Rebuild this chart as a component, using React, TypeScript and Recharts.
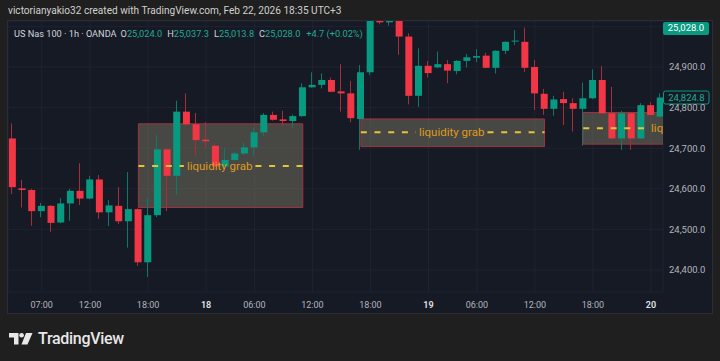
import React from "react";
import {
  ComposedChart,
  Bar,
  XAxis,
  YAxis,
  CartesianGrid,
  ReferenceArea,
  ReferenceLine,
} from "recharts";

// hourly candles, US Nas 100 (OANDA)
const opens = [
  24724, 24601, 24597, 24545, 24558, 24517, 24564, 24595, 24576, 24623,
  24542, 24558, 24520, 24550, 24419, 24535, 24697, 24632, 24790, 24759,
  24721, 24706, 24655, 24671, 24687, 24702, 24739, 24782, 24771, 24767,
  24779, 24850, 24856, 24868, 24840, 24835, 24772, 24887, 25035, 25010,
  25025, 24975, 24829, 24903, 24899, 24907, 24890, 24915, 24923, 24928,
  24898, 24940, 24963, 24962, 24900, 24834, 24797, 24821, 24811, 24797,
  24823, 24868, 24786, 24724, 24786, 24724, 24806, 24778,
];
const highs = [
  24761, 24622, 24600, 24565, 24560, 24577, 24600, 24663, 24632, 24634,
  24572, 24604, 24641, 24552, 24577, 24732, 24701, 24817, 24835, 24787,
  24764, 24712, 24700, 24692, 24714, 24749, 24786, 24790, 24792, 24783,
  24860, 24887, 24884, 24874, 24907, 24866, 24905, 25045, 25042, 25030,
  25035, 24983, 24946, 24915, 24938, 24917, 24917, 24932, 24944, 24935,
  24941, 24963, 24991, 24997, 24917, 24846, 24829, 24839, 24823, 24862,
  24894, 24902, 24851, 24792, 24788, 24811, 24813, 24835,
];
const lows = [
  24587, 24554, 24509, 24530, 24494, 24515, 24521, 24560, 24574, 24526,
  24508, 24513, 24455, 24410, 24383, 24530, 24545, 24585, 24755, 24681,
  24700, 24652, 24653, 24669, 24683, 24681, 24730, 24768, 24755, 24749,
  24777, 24849, 24847, 24838, 24790, 24764, 24696, 24880, 25005, 25002,
  24930, 24808, 24802, 24874, 24897, 24860, 24882, 24899, 24912, 24897,
  24884, 24932, 24954, 24888, 24794, 24782, 24780, 24757, 24741, 24706,
  24821, 24784, 24722, 24696, 24696, 24722, 24780, 24776,
];
const closes = [
  24604, 24597, 24545, 24558, 24516, 24564, 24595, 24576, 24623, 24542,
  24559, 24520, 24550, 24419, 24535, 24697, 24632, 24790, 24759, 24720,
  24717, 24655, 24671, 24687, 24702, 24739, 24782, 24770, 24767, 24779,
  24850, 24856, 24868, 24839, 24835, 24774, 24887, 25035, 25010, 25025,
  24975, 24829, 24903, 24885, 24907, 24891, 24915, 24924, 24927, 24898,
  24940, 24962, 24965, 24898, 24835, 24797, 24820, 24811, 24797, 24823,
  24868, 24786, 24724, 24786, 24724, 24806, 24782, 24824.8,
];

const timeTicks = [3, 8, 14, 20, 25, 31, 37, 43, 48, 54, 60, 66];
const timeLabels = ["07:00", "12:00", "18:00", "18", "06:00", "12:00", "18:00", "19", "06:00", "12:00", "18:00", "20"];
const priceTicks = [24400, 24500, 24600, 24700, 24800, 24900, 25000];

// "liquidity grab" rectangles (bar index / price)
const boxStart = [13, 36, 59];
const boxEnd = [30, 55, 80];
const boxTop = [24760, 24772, 24788];
const boxBottom = [24554, 24704, 24710];
const boxMid = [24656, 24739, 24749];
const boxTextAt = [21.4, 45.4, 69.4];

const lastPrice = 25028.0;
const markPrice = 24824.8;

const UP = "#089981";
const DOWN = "#f23645";

const candles = opens.map((o, i) => ({ i, o, h: highs[i], l: lows[i], c: closes[i] }));

const fmt = (v: number) =>
  v.toLocaleString("en-US", { minimumFractionDigits: 1, maximumFractionDigits: 1 });

function Candle(props: any) {
  const { x, y, width, height, payload } = props;
  if (x == null || !payload) return null;
  const { o, h, l, c } = payload;
  const up = c >= o;
  const top = Math.min(y, y + height);
  const hh = Math.abs(height);
  const k = h === l ? 0 : hh / (h - l);
  const bTop = top + (h - Math.max(o, c)) * k;
  const bBot = top + (h - Math.min(o, c)) * k;
  const cx = Math.round(x + width / 2) - 0.5;
  return (
    <g>
      <line x1={cx} x2={cx} y1={top} y2={top + hh} stroke={up ? "#0b7a67" : "#a82c39"} strokeWidth={1} />
      <rect x={x} y={bTop} width={width} height={Math.max(1, bBot - bTop)} fill={up ? UP : DOWN} />
    </g>
  );
}

function TimeTick(props: any) {
  const { x, y, payload } = props;
  const idx = timeTicks.indexOf(payload.value);
  const label = timeLabels[idx] ?? "";
  const day = label.length <= 2;
  return (
    <text
      x={x}
      y={y + 4.5}
      textAnchor="middle"
      dominantBaseline="central"
      fontSize={9}
      fill={day ? "#e0e3eb" : "#b2b5be"}
      fontWeight={day ? 600 : 400}
    >
      {label}
    </text>
  );
}

function PriceTick(props: any) {
  const { x, y, payload } = props;
  return (
    <text x={x} y={y} textAnchor="start" dominantBaseline="central" fontSize={9.5} fill="#b2b5be">
      {fmt(payload.value)}
    </text>
  );
}

function MarkBadge(props: any) {
  const { viewBox } = props;
  if (!viewBox) return null;
  const bx = viewBox.x + viewBox.width;
  const by = viewBox.y;
  return (
    <g>
      <rect x={bx + 0.5} y={by - 6.5} width={45.5} height={13} rx={2} fill="#161a25" stroke="#089981" strokeWidth={1} />
      <text x={bx + 23.5} y={by} textAnchor="middle" dominantBaseline="central" fontSize={9.5} fill="#22ab94">
        {fmt(markPrice)}
      </text>
    </g>
  );
}

function GrabText(props: any) {
  const { viewBox } = props;
  if (!viewBox) return null;
  return (
    <text
      x={viewBox.x + viewBox.width / 2}
      y={viewBox.y}
      textAnchor="middle"
      dominantBaseline="central"
      fontSize={11.5}
      fill="#df9a1c"
      clipPath="url(#plotClip)"
    >
      liquidity grab
    </text>
  );
}

export default function App() {
  return (
    <div
      style={{
        position: "absolute",
        left: 0,
        top: 0,
        width: 720,
        height: 361,
        background: "#1f1f1f",
        fontFamily: "Roboto, 'Noto Sans', sans-serif",
        overflow: "hidden",
      }}
    >
      {/* snapshot header */}
      <div style={{ position: "absolute", left: 8, top: 5, fontSize: 10.1, color: "#d0d0d0", whiteSpace: "nowrap" }}>
        victorianyakio32 created with TradingView.com, Feb 22, 2026 18:35 UTC+3
      </div>

      {/* chart panel */}
      <div
        style={{
          position: "absolute",
          left: 8,
          top: 21,
          width: 704,
          height: 292,
          background: "#161a25",
          boxShadow: "0 0 0 1px #2a2d36",
        }}
      >
        <ComposedChart width={704} height={292} data={candles} margin={{ top: 0, right: 0, bottom: 0, left: 0 }}>
          <defs>
            <clipPath id="plotClip">
              <rect x={0} y={0} width={655} height={271} />
            </clipPath>
          </defs>
          <CartesianGrid stroke="#1f2331" strokeWidth={1} />
          <XAxis
            dataKey="i"
            type="number"
            domain={[-0.486, 67.25]}
            allowDataOverflow
            ticks={timeTicks}
            interval={0}
            tick={<TimeTick />}
            tickLine={false}
            axisLine={false}
            tickSize={0}
            tickMargin={8}
            height={21}
          />
          <YAxis
            orientation="right"
            type="number"
            domain={[24345.8, 25013.3]}
            allowDataOverflow
            ticks={priceTicks}
            interval={0}
            tick={<PriceTick />}
            tickLine={false}
            axisLine={false}
            tickSize={0}
            tickMargin={6}
            width={49}
          />
          {boxStart.map((s, k) => (
            <ReferenceArea
              key={`box${k}`}
              x1={s}
              x2={boxEnd[k]}
              y1={boxBottom[k]}
              y2={boxTop[k]}
              ifOverflow="hidden"
              fill="rgb(130,126,104)"
              fillOpacity={0.46}
              stroke="#a3323f"
              strokeWidth={1}
              zIndex={-10}
            />
          ))}
          <Bar
            dataKey={(d: any) => [d.l, d.h]}
            barSize={7}
            shape={<Candle />}
            isAnimationActive={false}
          />
          {boxStart.map((s, k) => (
            <ReferenceLine
              key={`dl${k}`}
              segment={[
                { x: s, y: boxMid[k] },
                { x: boxTextAt[k] - 3.7, y: boxMid[k] },
              ]}
              ifOverflow="hidden"
              stroke="#e3c53a"
              strokeWidth={2}
              strokeDasharray="6 7.7"
            />
          ))}
          {boxStart.map((s, k) => (
            <ReferenceLine
              key={`dr${k}`}
              segment={[
                { x: boxTextAt[k] + 3.7, y: boxMid[k] },
                { x: boxEnd[k], y: boxMid[k] },
              ]}
              ifOverflow="hidden"
              stroke="#e3c53a"
              strokeWidth={2}
              strokeDasharray="6 7.7"
            />
          ))}
          {boxStart.map((s, k) => (
            <ReferenceLine
              key={`tx${k}`}
              segment={[
                { x: boxTextAt[k] - 3.3, y: boxMid[k] },
                { x: boxTextAt[k] + 3.3, y: boxMid[k] },
              ]}
              ifOverflow="visible"
              stroke="none"
              label={(p: any) => <GrabText {...p} />}
            />
          ))}
          <ReferenceLine
            y={markPrice}
            ifOverflow="visible"
            stroke="none"
            label={(p: any) => <MarkBadge {...p} />}
          />
        </ComposedChart>

        {/* symbol legend */}
        <div
          style={{
            position: "absolute",
            left: 6,
            top: 7,
            fontSize: 9.2,
            color: "#d1d4dc",
            whiteSpace: "nowrap",
            display: "flex",
          }}
        >
          <span>US Nas 100 · 1h · OANDA</span>
          <span style={{ marginLeft: 4 }}>O</span>
          <span style={{ color: "#22ab94" }}>25,024.0</span>
          <span style={{ marginLeft: 5 }}>H</span>
          <span style={{ color: "#22ab94" }}>25,037.3</span>
          <span style={{ marginLeft: 5 }}>L</span>
          <span style={{ color: "#22ab94" }}>25,013.8</span>
          <span style={{ marginLeft: 5 }}>C</span>
          <span style={{ color: "#22ab94" }}>25,028.0</span>
          <span style={{ marginLeft: 6, color: "#22ab94" }}>+4.7 (+0.02%)</span>
        </div>

        {/* last price badge (pinned to top of scale) */}
        <div
          style={{
            position: "absolute",
            left: 655,
            top: 1,
            width: 46,
            height: 12.5,
            background: "#089981",
            borderRadius: 2,
            color: "#ffffff",
            fontSize: 9.5,
            lineHeight: "12.5px",
            textAlign: "center",
          }}
        >
          {fmt(lastPrice)}
        </div>
      </div>

      {/* TradingView footer logo */}
      <div style={{ position: "absolute", left: 9, top: 329, display: "flex", alignItems: "center" }}>
        <svg width={24} height={12} viewBox="0 0 24 12">
          <path d="M0 0 H9.5 V11.5 H5 V4.5 H0 Z" fill="#e8e8e8" />
          <circle cx={12.6} cy={2.3} r={2.3} fill="#e8e8e8" />
          <path d="M17 0 H23.5 L18.5 11.5 H12.5 Z" fill="#e8e8e8" />
        </svg>
        <span style={{ marginLeft: 5, fontSize: 16, fontWeight: 500, color: "#e8e8e8", letterSpacing: -0.3 }}>
          TradingView
        </span>
      </div>
    </div>
  );
}
